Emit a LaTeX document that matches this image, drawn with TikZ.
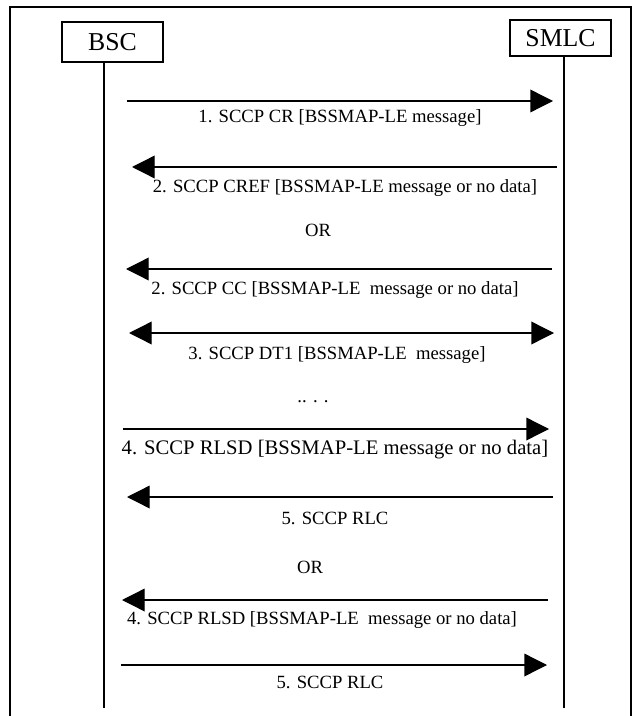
\documentclass[tikz,border=0pt]{standalone}
\usepackage{fontspec}
\setmainfont{Liberation Serif}
\usetikzlibrary{arrows.meta}

\begin{document}
\begin{tikzpicture}[x=0.75pt,y=-0.75pt,
  >={Triangle[length=17pt,width=17pt]},
  entity/.style={draw,line width=1.1pt,inner sep=0pt,font=\fontsize{19.3}{22}\selectfont},
  lifeline/.style={line width=1pt},
  msg/.style={->,line width=1pt},
  lbl/.style={inner sep=0pt,font=\fontsize{14}{16}\selectfont}]
  \useasboundingbox (0,0) rectangle (632,716);

  % Marco
  \draw[line width=1.5pt] (10,716) -- (10,7) -- (631,7) -- (631,716);

  % Entidades
  \node[entity,minimum width=75.75pt,minimum height=30pt] (bsc)  at (112.5,42) {BSC};
  \node[entity,minimum width=75.75pt,minimum height=27pt] (smlc) at (560.5,38) {SMLC};

  % Lineas de vida
  \coordinate (bscEnd)  at (104,708);
  \coordinate (smlcEnd) at (564,708);
  \draw[lifeline] (bsc.south -| bscEnd) -- (bscEnd);
  \draw[lifeline] (smlc.south -| smlcEnd) -- (smlcEnd);

  % 1. CR
  \coordinate (m1s) at (127,101); \coordinate (m1e) at (553,101);
  \draw[msg] (m1s) -- (m1e);
  \node[lbl] (l1) at (340,118) {1. SCCP CR [BSSMAP-LE message]};

  % 2. CREF
  \coordinate (m2s) at (557,167); \coordinate (m2e) at (132,167);
  \draw[msg] (m2s) -- (m2e);
  \node[lbl] (l2) at (345,188) {2. SCCP CREF [BSSMAP-LE message or no data]};

  \node[lbl] (or1) at (318,230) {OR};

  % 2. CC
  \coordinate (m3s) at (552,269); \coordinate (m3e) at (126,269);
  \draw[msg] (m3s) -- (m3e);
  \node[lbl] (l3) at (335,290) {2. SCCP CC [BSSMAP-LE~ message or no data]};

  % 3. DT1 (ambos sentidos)
  \coordinate (m4s) at (129,333); \coordinate (m4e) at (554,333);
  \draw[msg,<->] (m4s) -- (m4e);
  \node[lbl] (l4) at (337,355) {3. SCCP DT1 [BSSMAP-LE~ message]};

  \node[lbl] (dots) at (313,402) {.. . .};

  % 4. RLSD
  \coordinate (m5s) at (123,429); \coordinate (m5e) at (549,429);
  \draw[msg] (m5s) -- (m5e);
  \node[lbl,font=\fontsize{15.5}{18}\selectfont] (l5) at (335,450) {4. SCCP RLSD [BSSMAP-LE message or no data]};

  % 5. RLC
  \coordinate (m6s) at (553,497); \coordinate (m6e) at (127,497);
  \draw[msg] (m6s) -- (m6e);
  \node[lbl] (l6) at (335,518) {5. SCCP RLC};

  \node[lbl] (or2) at (310,567) {OR};

  % 4. RLSD desde SMLC
  \coordinate (m7s) at (548,600); \coordinate (m7e) at (122,600);
  \draw[msg] (m7s) -- (m7e);
  \node[lbl] (l7) at (322,620) {4. SCCP RLSD [BSSMAP-LE~ message or no data]};

  % 5. RLC desde BSC
  \coordinate (m8s) at (121,665); \coordinate (m8e) at (547,665);
  \draw[msg] (m8s) -- (m8e);
  \node[lbl] (l8) at (330,682) {5. SCCP RLC};
\end{tikzpicture}
\end{document}
